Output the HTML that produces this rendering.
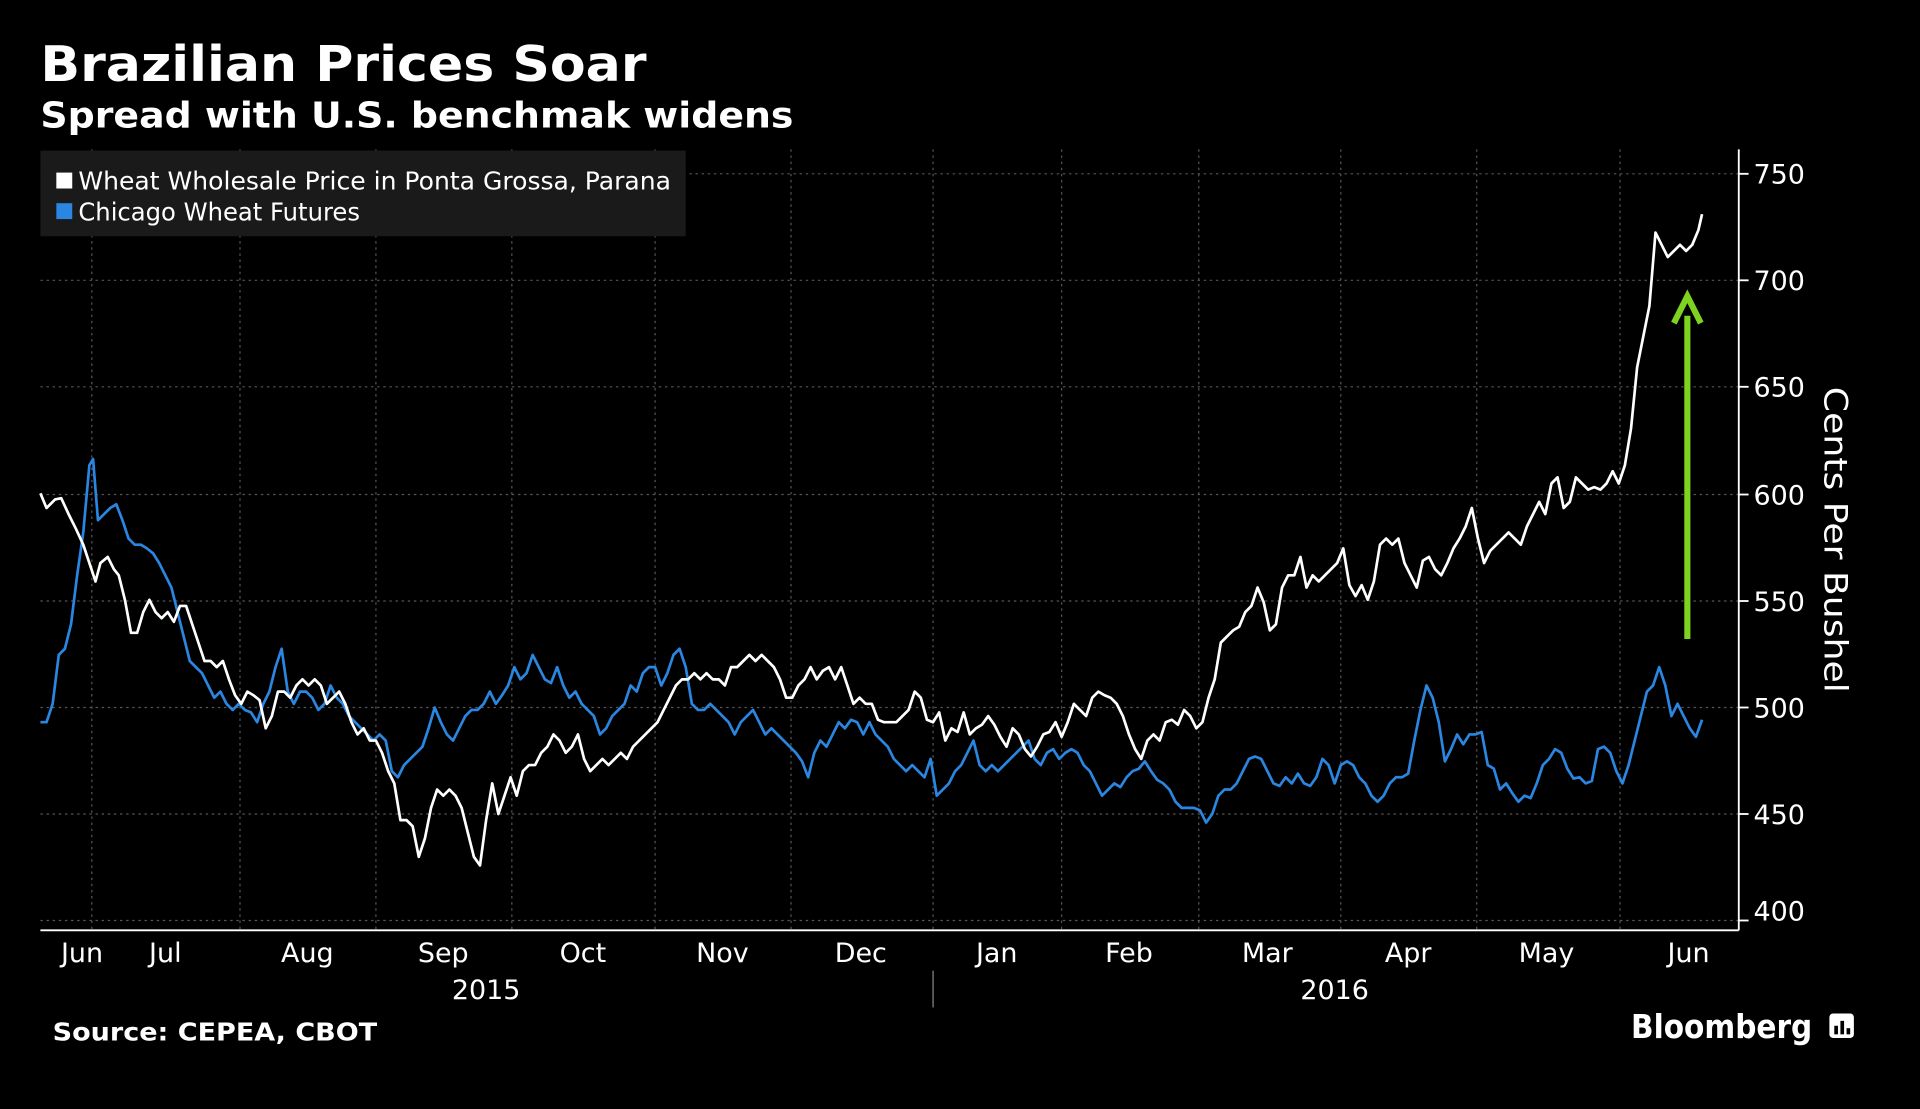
<!DOCTYPE html>
<html><head><meta charset="utf-8"><style>
html,body{margin:0;padding:0;background:#000;}
svg{display:block;}
text{font-family:"DejaVu Sans","Liberation Sans",sans-serif;fill:#fff;}
</style></head><body>
<svg width="1920" height="1109" viewBox="0 0 1568 906" preserveAspectRatio="none">
<rect width="1568" height="906" fill="#000"/>
<text x="33" y="66" font-size="40" font-weight="bold" textLength="495" lengthAdjust="spacingAndGlyphs">Brazilian Prices Soar</text>
<text x="33" y="104" font-size="29" font-weight="bold" textLength="615" lengthAdjust="spacingAndGlyphs">Spread with U.S. benchmak widens</text>
<g stroke="#555" stroke-width="1" stroke-dasharray="2,3">
<line x1="33" x2="1420" y1="142" y2="142"/><line x1="33" x2="1420" y1="229" y2="229"/>
<line x1="33" x2="1420" y1="316" y2="316"/><line x1="33" x2="1420" y1="404" y2="404"/>
<line x1="33" x2="1420" y1="491" y2="491"/><line x1="33" x2="1420" y1="578" y2="578"/>
<line x1="33" x2="1420" y1="665" y2="665"/><line x1="33" x2="1420" y1="752" y2="752"/>
<line x1="75" x2="75" y1="122" y2="760"/><line x1="196" x2="196" y1="122" y2="760"/>
<line x1="307" x2="307" y1="122" y2="760"/><line x1="418" x2="418" y1="122" y2="760"/>
<line x1="535" x2="535" y1="122" y2="760"/><line x1="646" x2="646" y1="122" y2="760"/>
<line x1="762" x2="762" y1="122" y2="760"/><line x1="867" x2="867" y1="122" y2="760"/>
<line x1="979" x2="979" y1="122" y2="760"/><line x1="1095" x2="1095" y1="122" y2="760"/>
<line x1="1206" x2="1206" y1="122" y2="760"/><line x1="1323" x2="1323" y1="122" y2="760"/>
</g>
<rect x="33" y="123" width="527" height="70" fill="#1a1a1a"/>
<rect x="46" y="141" width="13" height="13" fill="#fff"/>
<rect x="46" y="166" width="13" height="13" fill="#2a86e0"/>
<text x="64" y="155" font-size="20" textLength="484" lengthAdjust="spacingAndGlyphs">Wheat Wholesale Price in Ponta Grossa, Parana</text>
<text x="64" y="180" font-size="20" textLength="230" lengthAdjust="spacingAndGlyphs">Chicago Wheat Futures</text>
<line x1="1420" x2="1420" y1="122" y2="760" stroke="#fff" stroke-width="1.5"/>
<line x1="33" x2="1420" y1="760" y2="760" stroke="#fff" stroke-width="1.5"/>
<g stroke="#fff" stroke-width="1.5">
<line x1="1420" x2="1428" y1="142" y2="142"/><line x1="1420" x2="1428" y1="229" y2="229"/>
<line x1="1420" x2="1428" y1="316" y2="316"/><line x1="1420" x2="1428" y1="404" y2="404"/>
<line x1="1420" x2="1428" y1="491" y2="491"/><line x1="1420" x2="1428" y1="578" y2="578"/>
<line x1="1420" x2="1428" y1="665" y2="665"/><line x1="1420" x2="1428" y1="752" y2="752"/>
</g>
<g font-size="22">
<text x="1432" y="150">750</text><text x="1432" y="237">700</text><text x="1432" y="324">650</text>
<text x="1432" y="412">600</text><text x="1432" y="499">550</text><text x="1432" y="586">500</text>
<text x="1432" y="673">450</text><text x="1432" y="752">400</text>
</g>
<text transform="translate(1490,441) rotate(90)" font-size="26" text-anchor="middle" textLength="250" lengthAdjust="spacingAndGlyphs">Cents Per Bushel</text>
<g font-size="22" text-anchor="middle">
<text x="67" y="786">Jun</text><text x="135" y="786">Jul</text><text x="251" y="786">Aug</text>
<text x="362" y="786">Sep</text><text x="476" y="786">Oct</text><text x="590" y="786">Nov</text>
<text x="703" y="786">Dec</text><text x="814" y="786">Jan</text><text x="922" y="786">Feb</text>
<text x="1035" y="786">Mar</text><text x="1150" y="786">Apr</text><text x="1263" y="786">May</text>
<text x="1379" y="786">Jun</text>
<text x="397" y="816">2015</text><text x="1090" y="816">2016</text>
</g>
<line x1="762" x2="762" y1="793" y2="823" stroke="#888" stroke-width="1"/>
<polyline fill="none" stroke="#2a86e0" stroke-width="2.2" stroke-linejoin="round" points="33,590 38,590 43,575 48,535 53,530 58,510 63,470 68,435 73,380 76,375 80,425 85,420 90,415 95,412 100,425 105,440 110,445 115,445 120,448 125,452 130,460 135,470 140,480 145,500 150,520 155,540 160,545 165,550 170,560 175,570 180,565 185,575 190,580 195,575 200,580 205,582 210,590 215,575 220,565 225,545 230,530 235,565 240,575 245,565 250,565 255,570 260,580 265,575 270,560 275,570 280,575 285,585 290,590 295,595 300,600 305,605 310,600 315,605 320,630 325,635 330,625 335,620 340,615 345,610 350,595 355,578 360,590 365,600 370,605 375,595 380,585 385,580 390,580 395,575 400,565 405,575 410,568 415,560 420,545 425,555 430,550 435,535 440,545 445,555 450,558 455,545 460,560 465,570 470,565 475,575 480,580 485,585 490,600 495,595 500,585 505,580 510,575 515,560 520,565 525,550 530,545 535,545 540,560 545,550 550,535 555,530 560,545 565,575 570,580 575,580 580,575 585,580 590,585 595,590 600,600 605,590 610,585 615,580 620,590 625,600 630,595 635,600 640,605 645,610 650,615 655,622 660,635 665,615 670,605 675,610 680,600 685,590 690,595 695,588 700,590 705,600 710,590 715,600 720,605 725,610 730,620 735,625 740,630 745,625 750,630 755,635 760,620 765,650 770,645 775,640 780,630 785,625 790,615 795,605 800,625 805,630 810,625 815,630 820,625 825,620 830,615 835,610 840,605 845,620 850,625 855,615 860,612 865,620 870,615 875,612 880,615 885,625 890,630 895,640 900,650 905,645 910,640 915,643 920,635 925,630 930,628 935,622 940,630 945,637 950,640 955,645 960,655 965,660 970,660 975,660 980,662 985,672 990,665 995,650 1000,645 1005,645 1010,640 1015,630 1020,620 1025,618 1030,620 1035,630 1040,640 1045,642 1050,635 1055,640 1060,632 1065,640 1070,642 1075,635 1080,620 1085,625 1090,640 1095,625 1100,622 1105,625 1110,635 1115,640 1120,650 1125,655 1130,650 1135,640 1140,635 1145,635 1150,632 1155,605 1160,580 1165,560 1170,570 1175,590 1180,622 1185,612 1190,600 1195,608 1200,600 1205,600 1210,598 1215,625 1220,628 1225,645 1230,640 1235,648 1240,655 1245,650 1250,652 1255,640 1260,625 1265,620 1270,612 1275,615 1280,628 1285,636 1290,635 1295,640 1300,638 1305,612 1310,610 1315,615 1320,630 1325,640 1330,625 1335,605 1340,585 1345,565 1350,560 1355,545 1360,560 1365,585 1370,575 1375,585 1380,595 1385,602 1390,588"/>
<polyline fill="none" stroke="#fff" stroke-width="2.2" stroke-linejoin="round" points="33,403 38,415 45,408 50,407 56,420 62,432 68,445 73,460 78,475 82,460 88,455 93,465 97,470 102,490 107,517 112,517 117,500 122,490 127,500 132,505 137,500 142,508 147,495 152,495 157,510 162,525 167,540 172,540 177,545 182,540 187,555 192,568 197,575 202,565 207,568 212,572 217,595 222,585 227,565 232,565 237,570 242,560 247,555 252,560 257,555 262,560 267,575 272,570 277,565 282,575 287,590 292,600 297,595 302,605 307,605 312,615 317,630 322,640 327,670 332,670 337,675 342,700 347,685 352,660 357,645 362,650 367,645 372,650 377,660 382,680 387,700 392,707 397,670 402,640 407,665 412,650 417,635 422,650 427,630 432,625 437,625 442,615 447,610 452,600 457,605 462,615 467,610 472,600 477,620 482,630 487,625 492,620 497,625 502,620 507,615 512,620 517,610 522,605 527,600 532,595 537,590 542,580 547,570 552,560 557,555 562,555 567,550 572,555 577,550 582,555 587,555 592,560 597,545 602,545 607,540 612,535 617,540 622,535 627,540 632,545 637,555 642,570 647,570 652,560 657,555 662,545 667,555 672,548 677,545 682,555 687,545 692,560 697,575 702,570 707,575 712,575 717,588 722,590 727,590 732,590 737,585 742,580 747,565 752,570 757,588 762,590 767,582 772,605 777,595 782,598 787,582 792,600 797,595 802,592 807,585 812,592 817,602 822,610 827,595 832,600 837,612 842,618 847,610 852,600 857,598 862,590 867,602 872,590 877,575 882,580 887,585 892,570 897,565 902,568 907,570 912,575 917,585 922,600 927,612 932,620 937,605 942,600 947,605 952,590 957,588 962,592 967,580 972,585 977,595 982,590 987,570 992,555 997,525 1002,520 1007,515 1012,512 1017,500 1022,495 1027,480 1032,492 1037,515 1042,510 1047,480 1052,470 1057,470 1062,455 1067,480 1072,470 1077,475 1082,470 1087,465 1092,460 1097,448 1102,478 1107,487 1112,478 1117,490 1122,475 1127,445 1132,440 1137,445 1142,440 1147,460 1152,470 1157,480 1162,458 1167,455 1172,465 1177,470 1182,460 1187,448 1192,440 1197,430 1202,415 1207,440 1212,460 1217,450 1222,445 1227,440 1232,435 1237,440 1242,445 1247,430 1252,420 1257,410 1262,420 1267,395 1272,390 1277,415 1282,410 1287,390 1292,395 1297,400 1302,398 1307,400 1312,395 1317,385 1322,395 1327,380 1332,350 1337,300 1342,275 1347,250 1352,190 1357,200 1362,210 1367,205 1372,200 1377,205 1382,200 1387,188 1390,175"/>
<line x1="1378" x2="1378" y1="522" y2="258" stroke="#7ed321" stroke-width="5"/>
<polyline points="1367,264 1378,242 1389,264" fill="none" stroke="#7ed321" stroke-width="5" stroke-linejoin="miter"/>
<text x="43" y="850" font-size="20" font-weight="bold" textLength="265" lengthAdjust="spacingAndGlyphs">Source: CEPEA, CBOT</text>
<text x="1332" y="848" font-size="27" font-weight="bold" textLength="148" lengthAdjust="spacingAndGlyphs">Bloomberg</text>
<rect x="1494" y="828" width="20" height="20" rx="3" fill="#fff"/>
<rect x="1498" y="838" width="3" height="7" fill="#000"/><rect x="1503" y="834" width="3" height="11" fill="#000"/><rect x="1508" y="840" width="3" height="5" fill="#000"/>
</svg>
</body></html>
